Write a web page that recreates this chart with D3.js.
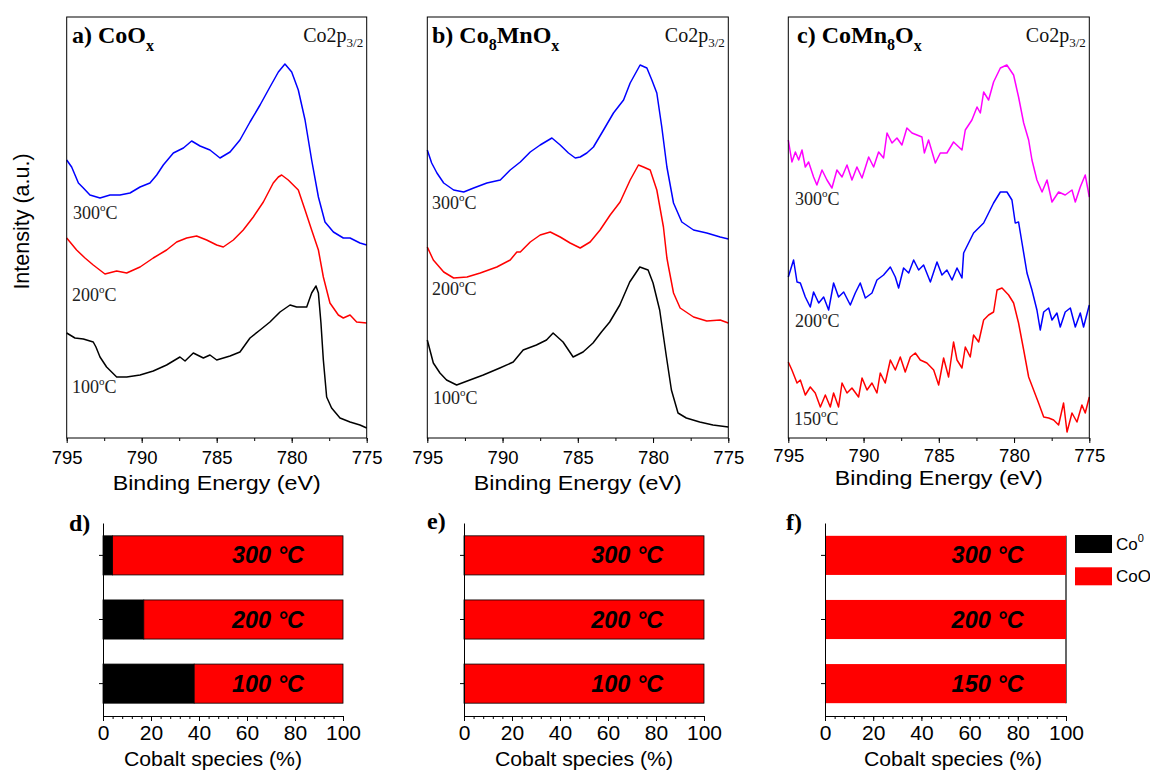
<!DOCTYPE html>
<html><head><meta charset="utf-8">
<script src="https://cdn.jsdelivr.net/npm/d3@7"></script>
<style>body{margin:0;background:#fff} svg{display:block}</style>
</head><body>
<svg id="chart" width="1150" height="771"></svg>
<script>
// ---------- DATA (binding energy eV, intensity a.u.) ----------
const energyTicks = [795, 790, 785, 780, 775];
const energyMinorTicks = [795, 792.5, 790, 787.5, 785, 782.5, 780, 777.5, 775];

const coOx300 = [[795.0,278],[794.67,271],[794.22,255],[793.89,250],[793.45,243],[792.78,240],[792.11,243],[791.45,243],[790.78,245],[790.11,251],[789.45,255],[789.0,263],[788.56,273],[787.89,285],[787.22,290],[786.67,297],[786.11,292],[785.45,288],[784.78,280],[784.11,286],[783.45,298],[782.78,316],[782.11,333],[781.45,351],[780.89,366],[780.45,374],[780.0,366],[779.56,348],[779.11,318],[778.67,278],[778.22,241],[777.78,216],[777.22,206],[776.56,200],[776.11,200],[775.45,195],[775.0,193]];
const coOx200 = [[795.0,200],[794.34,188],[793.78,180],[793.23,173],[792.45,164],[791.67,167],[791.0,165],[790.11,171],[789.23,180],[788.34,188],[787.67,196],[787.0,200],[786.34,202],[785.67,198],[785.0,193],[784.56,191],[783.89,198],[783.23,208],[782.56,221],[781.89,236],[781.23,255],[780.89,261],[780.67,263],[780.23,258],[779.56,248],[779.11,228],[778.67,208],[778.22,188],[777.89,161],[777.45,135],[776.89,123],[776.56,120],[776.11,123],[775.67,116],[775.0,115]];
const coOx100 = [[795.0,105],[794.45,100],[793.89,99],[793.23,96],[793.05,91],[792.78,81],[792.34,71],[791.67,61],[791.0,61],[790.11,63],[789.23,67],[788.34,73],[787.45,81],[787.11,77],[786.56,85],[785.89,80],[785.45,83],[785.0,78],[784.11,82],[783.45,86],[782.78,100],[782.11,108],[781.45,116],[780.78,126],[780.11,133],[779.67,131],[779.0,131],[778.67,145],[778.38,152],[778.22,145],[778.05,115],[777.89,78],[777.67,41],[777.34,30],[776.78,20],[776.11,16],[775.45,13],[775.0,10]];

const co8Mn300 = [[795.0,288],[794.71,275],[794.36,265],[793.91,255],[793.25,248],[792.58,246],[791.92,250],[791.04,255],[790.15,258],[789.49,268],[788.82,276],[788.16,286],[787.5,293],[786.72,300],[786.17,293],[785.62,285],[785.17,280],[784.84,281],[784.4,285],[783.96,291],[783.29,308],[782.63,325],[781.96,338],[781.52,355],[780.86,373],[780.41,370],[780.08,358],[779.75,345],[779.42,311],[779.08,271],[778.64,235],[778.09,216],[777.31,208],[776.43,205],[775.54,201],[775.0,199]];
const co8Mn200 = [[795.0,191],[794.6,178],[793.91,166],[793.25,160],[792.36,161],[791.48,165],[790.38,171],[789.49,178],[789.05,186],[788.82,186],[788.16,196],[787.5,203],[786.83,206],[786.17,201],[785.51,195],[784.84,190],[784.18,196],[783.52,208],[782.85,223],[782.19,236],[781.52,258],[780.97,273],[780.64,271],[780.19,268],[779.75,248],[779.31,211],[779.08,180],[778.97,171],[778.64,145],[778.2,130],[777.31,121],[776.43,117],[775.54,118],[775.0,115]];
const co8Mn100 = [[795.0,98],[794.6,75],[794.16,65],[793.72,58],[793.05,53],[792.17,58],[791.28,63],[790.18,70],[789.29,76],[788.63,88],[787.75,93],[787.08,98],[786.64,105],[785.98,96],[785.31,81],[784.65,86],[783.99,95],[783.43,106],[782.88,116],[782.21,133],[781.55,156],[780.88,171],[780.33,168],[780.0,155],[779.56,128],[779.11,81],[778.78,48],[778.34,25],[777.79,20],[776.9,16],[776.02,13],[775.0,11]];

const coMn8300 = [[795.0,298],[794.76,276],[794.53,286],[794.31,278],[794.09,288],[793.87,271],[793.65,276],[793.32,261],[793.1,253],[792.76,268],[792.43,258],[792.1,250],[791.77,268],[791.43,261],[791.1,273],[790.77,258],[790.44,271],[790.1,260],[789.66,281],[789.33,271],[789.0,286],[788.67,280],[788.44,305],[788.11,295],[787.78,300],[787.45,293],[787.12,310],[786.78,305],[786.45,303],[786.12,301],[785.96,285],[785.68,298],[785.23,275],[784.9,285],[784.46,285],[784.02,296],[783.46,288],[783.24,308],[782.8,318],[782.46,331],[782.24,325],[782.02,346],[781.69,338],[781.36,356],[780.91,370],[780.48,373],[780.03,363],[779.7,341],[779.36,315],[779.03,298],[778.81,278],[778.48,258],[778.14,246],[777.81,258],[777.48,236],[777.04,246],[776.6,243],[776.15,248],[775.93,236],[775.6,251],[775.27,263],[775.0,241]];
const coMn8200 = [[795.0,161],[794.65,178],[794.42,156],[794.2,155],[793.87,141],[793.54,131],[793.32,146],[792.98,135],[792.65,141],[792.32,128],[791.99,155],[791.66,141],[791.32,146],[790.88,133],[790.55,145],[790.22,155],[789.88,140],[789.44,145],[789.11,158],[788.67,163],[788.22,171],[787.89,161],[787.67,150],[787.34,170],[787.0,165],[786.67,178],[786.34,168],[786.01,173],[785.56,156],[785.12,176],[784.79,163],[784.46,168],[784.12,158],[783.79,170],[783.46,160],[783.35,185],[782.69,205],[782.02,215],[781.36,235],[780.91,246],[780.47,246],[780.14,238],[779.92,215],[779.7,216],[779.47,195],[779.14,165],[778.81,148],[778.48,128],[778.26,108],[778.03,126],[777.7,130],[777.48,118],[777.15,125],[776.93,111],[776.6,126],[776.26,130],[775.93,111],[775.6,125],[775.38,111],[775.0,133]];
const coMn8150 = [[795.0,76],[794.76,68],[794.42,55],[794.2,58],[793.87,43],[793.54,51],[793.21,45],[792.87,31],[792.54,43],[792.21,31],[791.99,45],[791.66,31],[791.43,55],[791.1,45],[790.77,50],[790.33,41],[790.1,60],[789.77,48],[789.44,55],[789.11,45],[788.89,65],[788.56,55],[788.22,78],[787.89,68],[787.56,81],[787.23,66],[786.89,81],[786.56,85],[786.23,78],[785.79,75],[785.34,68],[785.01,53],[784.68,80],[784.35,61],[784.02,96],[783.79,78],[783.46,70],[783.24,91],[782.91,81],[782.69,103],[782.35,96],[782.02,118],[781.69,123],[781.36,126],[781.13,148],[780.8,150],[780.36,143],[780.03,135],[779.7,115],[779.36,88],[779.03,61],[778.7,48],[778.37,35],[778.03,21],[777.7,20],[777.37,18],[777.04,13],[776.71,35],[776.48,6],[776.15,25],[775.82,16],[775.49,33],[775.27,25],[775.0,41]];

// bar charts (Cobalt species %)
const tempsD = ["300 °C", "200 °C", "100 °C"];
const co0D = [4, 17, 38];
const cooD = [96, 83, 62];
const tempsE = ["300 °C", "200 °C", "100 °C"];
const co0E = [0, 0, 0];
const cooE = [100, 100, 100];
const tempsF = ["300 °C", "200 °C", "150 °C"];
const co0F = [0, 0, 0];
const cooF = [100, 100, 100];
const percentTicks = [0, 20, 40, 60, 80, 100];
const legendNames = ["Co", "CoO"];

// ---------- DRAWING ----------
const svg = d3.select("#chart");
const serif = "'Liberation Serif','Times New Roman',serif";
const sans = "'Liberation Sans',Arial,sans-serif";

const specTop = 17, specBottom = 438;

const spectraPanels = [
  {x0: 66.7, x1: 366.7, title: [["a) CoO",0,24],["x",8,16]], titleX: 72, xTitleY: 490, tickPad: 8, xTitleSize: 21,
   curves: [
     {data: coOx300, color: "#0000ff", label: "300", lx: 73, ly: 219},
     {data: coOx200, color: "#ff0000", label: "200", lx: 72, ly: 301},
     {data: coOx100, color: "#000000", label: "100", lx: 72, ly: 393}]},
  {x0: 427.3, x1: 728.3, title: [["b) Co",0,24],["8",7,16],["MnO",-7,24],["x",8,16]], titleX: 432, xTitleY: 490, tickPad: 8, xTitleSize: 21,
   curves: [
     {data: co8Mn300, color: "#0000ff", label: "300", lx: 432, ly: 209},
     {data: co8Mn200, color: "#ff0000", label: "200", lx: 432, ly: 295},
     {data: co8Mn100, color: "#000000", label: "100", lx: 433, ly: 404}]},
  {x0: 788.3, x1: 1089.3, title: [["c) CoMn",0,24],["8",7,16],["O",-7,24],["x",8,16]], titleX: 797, xTitleY: 485, tickPad: 6, xTitleSize: 20,
   curves: [
     {data: coMn8300, color: "#ff00ff", label: "300", lx: 795, ly: 205},
     {data: coMn8200, color: "#0000ff", label: "200", lx: 795, ly: 327},
     {data: coMn8150, color: "#ff0000", label: "150", lx: 794, ly: 425}]}
];

spectraPanels.forEach(p => {
  const g = svg.append("g");
  const x = d3.scaleLinear().domain([795, 775]).range([p.x0, p.x1]);
  const y = d3.scaleLinear().domain([0, 421]).range([specBottom, specTop]);
  const line = d3.line().x(d => x(d[0])).y(d => y(d[1]));

  p.curves.forEach(c => {
    g.append("path").datum(c.data).attr("d", line)
      .attr("fill", "none").attr("stroke", c.color).attr("stroke-width", 1.5)
      .attr("stroke-linejoin", "round");
    const t = g.append("text").attr("x", c.lx).attr("y", c.ly)
      .attr("font-family", serif).attr("font-size", 18).attr("fill", "#222");
    t.append("tspan").text(c.label);
    t.append("tspan").attr("dy", -8).attr("font-size", 11).text("o");
    t.append("tspan").attr("dy", 8).attr("font-size", 18).text("C");
  });

  // frame
  g.append("rect").attr("x", p.x0).attr("y", specTop)
    .attr("width", p.x1 - p.x0).attr("height", specBottom - specTop)
    .attr("fill", "none").attr("stroke", "#000").attr("stroke-width", 1);

  // axis
  const ax = g.append("g").attr("transform", `translate(0,${specBottom})`)
    .call(d3.axisBottom(x).tickValues(energyTicks).tickSize(5).tickPadding(p.tickPad).tickFormat(d3.format("d")));
  ax.select(".domain").remove();
  ax.selectAll("text").attr("font-family", sans).attr("font-size", 18.5).attr("fill", "#000");
  const axm = g.append("g").attr("transform", `translate(0,${specBottom})`)
    .call(d3.axisBottom(x).tickValues(energyMinorTicks).tickSize(3).tickFormat(""));
  axm.select(".domain").remove();

  g.append("text").attr("x", (p.x0 + p.x1) / 2).attr("y", p.xTitleY)
    .attr("text-anchor", "middle").attr("font-family", sans).attr("font-size", p.xTitleSize)
    .attr("textLength", 208).attr("lengthAdjust", "spacingAndGlyphs")
    .text("Binding Energy (eV)");

  // title
  const tt = g.append("text").attr("x", p.titleX).attr("y", 43)
    .attr("font-family", serif).attr("font-weight", "bold");
  tt.selectAll("tspan").data(p.title).enter().append("tspan")
    .attr("dy", d => d[1]).attr("font-size", d => d[2]).text(d => d[0]);

  // Co2p3/2
  const ct = g.append("text").attr("x", p.x1 - 3.5).attr("y", 42)
    .attr("text-anchor", "end").attr("font-family", serif).attr("font-size", 20).attr("fill", "#111");
  ct.append("tspan").text("Co2p");
  ct.append("tspan").attr("dy", 5).attr("font-size", 13).text("3/2");
});

svg.append("text").attr("transform", "translate(29,221.5) rotate(-90)")
  .attr("text-anchor", "middle").attr("font-family", sans).attr("font-size", 21.5)
  .text("Intensity (a.u.)");

// ---------- bar panels ----------
const barPanels = [
  {x0: 103, x1: 343, letter: "d)", lx: 69, ly: 531, temps: tempsD, co0: co0D, coo: cooD, outline: true, labelAt: 68.75, titleX: 213},
  {x0: 464, x1: 704, letter: "e)", lx: 427, ly: 529, temps: tempsE, co0: co0E, coo: cooE, outline: true, labelAt: 68, titleX: 584},
  {x0: 825, x1: 1066, letter: "f)", lx: 786, ly: 530, temps: tempsF, co0: co0F, coo: cooF, outline: false, labelAt: 67.5, titleX: 953}
];

barPanels.forEach(p => {
  const g = svg.append("g");
  const x = d3.scaleLinear().domain([0, 100]).range([p.x0, p.x1]);
  const y = d3.scaleBand().domain(p.temps).range([523, 716]).paddingInner(0.39).paddingOuter(0.2);

  if (!p.outline) {
    g.append("line").attr("x1", x(100)).attr("x2", x(100))
      .attr("y1", y(p.temps[0])).attr("y2", y(p.temps[p.temps.length - 1]) + y.bandwidth())
      .attr("stroke", "#000").attr("stroke-width", 1.2);
  }

  p.temps.forEach((t, i) => {
    if (p.co0[i] > 0) {
      g.append("rect").attr("x", x(0)).attr("y", y(t))
        .attr("width", x(p.co0[i]) - x(0)).attr("height", y.bandwidth())
        .attr("fill", "#000").attr("stroke", p.outline ? "#000" : "none").attr("stroke-width", 0.8);
    }
    g.append("rect").attr("x", x(p.co0[i])).attr("y", y(t))
      .attr("width", x(p.co0[i] + p.coo[i]) - x(p.co0[i])).attr("height", y.bandwidth())
      .attr("fill", "#ff0000").attr("stroke", p.outline ? "#000" : "none").attr("stroke-width", 0.8);
    g.append("text").attr("x", x(p.labelAt)).attr("y", y(t) + y.bandwidth() / 2 + 8)
      .attr("text-anchor", "middle").attr("font-family", sans).attr("font-size", 23.5)
      .attr("font-weight", "bold").attr("font-style", "italic").text(t);
  });

  const ax = g.append("g").attr("transform", "translate(0,716)")
    .call(d3.axisBottom(x).tickValues(percentTicks).tickSize(5).tickSizeOuter(0).tickPadding(4));
  ax.selectAll("text").attr("font-family", sans).attr("font-size", 21).attr("fill", "#000");
  const axm = g.append("g").attr("transform", "translate(0,716)")
    .call(d3.axisBottom(x).tickValues(d3.range(0, 101, 4)).tickSize(3).tickFormat(""));
  axm.select(".domain").remove();

  g.append("g").attr("transform", `translate(${p.x0},0)`)
    .call(d3.axisLeft(y).tickSize(4).tickSizeOuter(0).tickFormat(""));

  g.append("text").attr("x", p.titleX).attr("y", 766).attr("text-anchor", "middle")
    .attr("font-family", sans).attr("font-size", 20)
    .attr("textLength", 178).attr("lengthAdjust", "spacingAndGlyphs")
    .text("Cobalt species (%)");

  g.append("text").attr("x", p.lx).attr("y", p.ly).attr("font-family", serif)
    .attr("font-weight", "bold").attr("font-size", 24).text(p.letter);
});

// legend
const legendColors = ["#000000", "#ff0000"];
const lg = svg.append("g");
legendNames.forEach((n, i) => {
  lg.append("rect").attr("x", 1075).attr("y", 535 + i * 32.3).attr("width", 37).attr("height", 18)
    .attr("fill", legendColors[i]);
  const t = lg.append("text").attr("x", 1116).attr("y", 550 + i * 32.3)
    .attr("font-family", sans).attr("font-size", 17).text(n);
  if (i === 0) t.append("tspan").attr("dy", -8).attr("font-size", 11).text("0");
});
</script>
</body></html>
